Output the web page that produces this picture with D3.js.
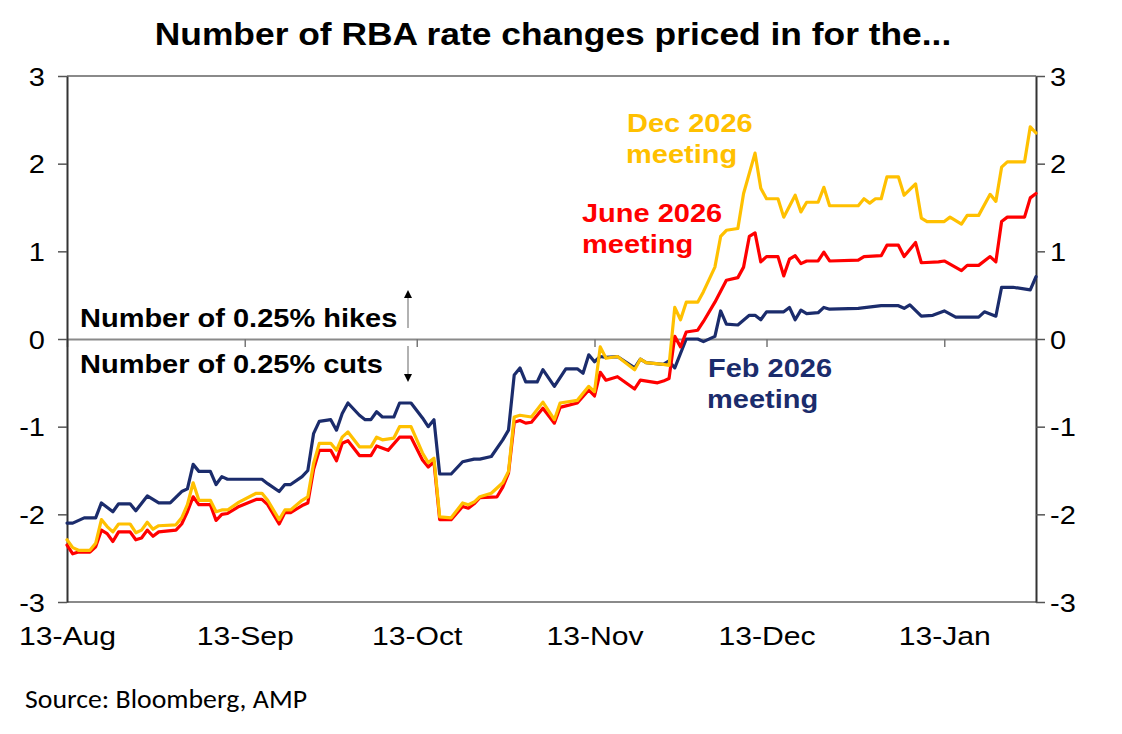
<!DOCTYPE html>
<html>
<head>
<meta charset="utf-8">
<script src="https://cdn.jsdelivr.net/npm/d3@7/dist/d3.min.js"></script>
<style>
  html, body { margin: 0; padding: 0; background: #fff; }
  svg { display: block; }
</style>
</head>
<body>
<svg id="chart" width="1122" height="734"></svg>
<script>
// ---------- DATA ----------
const title = "Number of RBA rate changes priced in for the...";
const sourceText = "Source: Bloomberg, AMP";
const yTicks = [-3, -2, -1, 0, 1, 2, 3];
const yTickLabels = ["-3", "-2", "-1", "0", "1", "2", "3"];
const xTickDates = ["2025-08-13", "2025-09-13", "2025-10-13", "2025-11-13", "2025-12-13", "2026-01-13"];
const xTickLabels = ["13-Aug", "13-Sep", "13-Oct", "13-Nov", "13-Dec", "13-Jan"];
const xDomain = ["2025-08-13", "2026-01-29"];

const feb2026 = [["2025-08-13",-2.10],["2025-08-14",-2.10],["2025-08-16",-2.04],["2025-08-18",-2.04],["2025-08-19",-1.87],["2025-08-21",-1.97],["2025-08-22",-1.88],["2025-08-24",-1.88],["2025-08-25",-1.96],["2025-08-27",-1.79],["2025-08-29",-1.87],["2025-08-31",-1.87],["2025-09-02",-1.74],["2025-09-03",-1.71],["2025-09-04",-1.43],["2025-09-05",-1.51],["2025-09-07",-1.51],["2025-09-08",-1.66],["2025-09-09",-1.57],["2025-09-10",-1.60],["2025-09-16",-1.60],["2025-09-17",-1.65],["2025-09-19",-1.74],["2025-09-20",-1.66],["2025-09-21",-1.66],["2025-09-23",-1.57],["2025-09-24",-1.50],["2025-09-25",-1.08],["2025-09-26",-0.94],["2025-09-28",-0.92],["2025-09-29",-1.04],["2025-09-30",-0.85],["2025-10-01",-0.73],["2025-10-03",-0.87],["2025-10-04",-0.92],["2025-10-05",-0.92],["2025-10-06",-0.83],["2025-10-07",-0.89],["2025-10-09",-0.89],["2025-10-10",-0.73],["2025-10-12",-0.73],["2025-10-14",-0.90],["2025-10-15",-1.00],["2025-10-16",-0.92],["2025-10-17",-1.54],["2025-10-19",-1.54],["2025-10-21",-1.40],["2025-10-23",-1.37],["2025-10-24",-1.37],["2025-10-26",-1.34],["2025-10-28",-1.15],["2025-10-29",-1.04],["2025-10-30",-0.41],["2025-10-31",-0.33],["2025-11-01",-0.49],["2025-11-03",-0.49],["2025-11-04",-0.35],["2025-11-06",-0.54],["2025-11-08",-0.34],["2025-11-10",-0.34],["2025-11-11",-0.39],["2025-11-12",-0.18],["2025-11-13",-0.26],["2025-11-14",-0.20],["2025-11-15",-0.21],["2025-11-17",-0.20],["2025-11-20",-0.33],["2025-11-21",-0.23],["2025-11-22",-0.27],["2025-11-25",-0.29],["2025-11-26",-0.25],["2025-11-27",-0.33],["2025-11-29",0.00],["2025-12-01",0.00],["2025-12-02",-0.03],["2025-12-04",0.03],["2025-12-05",0.32],["2025-12-06",0.17],["2025-12-08",0.16],["2025-12-10",0.27],["2025-12-11",0.27],["2025-12-12",0.22],["2025-12-13",0.31],["2025-12-16",0.31],["2025-12-17",0.36],["2025-12-18",0.22],["2025-12-19",0.33],["2025-12-20",0.29],["2025-12-22",0.30],["2025-12-23",0.36],["2025-12-24",0.34],["2025-12-29",0.35],["2026-01-02",0.38],["2026-01-05",0.38],["2026-01-06",0.35],["2026-01-07",0.39],["2026-01-09",0.26],["2026-01-11",0.27],["2026-01-13",0.32],["2026-01-15",0.25],["2026-01-19",0.25],["2026-01-20",0.31],["2026-01-22",0.26],["2026-01-23",0.59],["2026-01-25",0.59],["2026-01-28",0.56],["2026-01-29",0.71]];

const jun2026 = [["2025-08-13",-2.35],["2025-08-14",-2.45],["2025-08-15",-2.43],["2025-08-17",-2.43],["2025-08-18",-2.37],["2025-08-19",-2.18],["2025-08-20",-2.22],["2025-08-21",-2.31],["2025-08-22",-2.20],["2025-08-24",-2.20],["2025-08-25",-2.29],["2025-08-26",-2.27],["2025-08-27",-2.18],["2025-08-28",-2.25],["2025-08-29",-2.20],["2025-09-01",-2.18],["2025-09-02",-2.11],["2025-09-03",-1.97],["2025-09-04",-1.80],["2025-09-05",-1.89],["2025-09-07",-1.89],["2025-09-08",-2.07],["2025-09-09",-2.00],["2025-09-10",-1.99],["2025-09-12",-1.91],["2025-09-15",-1.83],["2025-09-16",-1.83],["2025-09-17",-1.89],["2025-09-19",-2.11],["2025-09-20",-1.98],["2025-09-21",-1.98],["2025-09-23",-1.90],["2025-09-24",-1.87],["2025-09-25",-1.49],["2025-09-26",-1.27],["2025-09-28",-1.27],["2025-09-29",-1.39],["2025-09-30",-1.19],["2025-10-01",-1.16],["2025-10-03",-1.33],["2025-10-05",-1.33],["2025-10-06",-1.22],["2025-10-08",-1.27],["2025-10-10",-1.12],["2025-10-12",-1.12],["2025-10-14",-1.38],["2025-10-15",-1.46],["2025-10-16",-1.40],["2025-10-17",-2.06],["2025-10-19",-2.06],["2025-10-21",-1.91],["2025-10-22",-1.93],["2025-10-23",-1.88],["2025-10-24",-1.81],["2025-10-27",-1.80],["2025-10-28",-1.69],["2025-10-29",-1.53],["2025-10-30",-0.95],["2025-10-31",-0.93],["2025-11-01",-0.96],["2025-11-02",-0.95],["2025-11-04",-0.79],["2025-11-06",-0.96],["2025-11-07",-0.78],["2025-11-10",-0.73],["2025-11-12",-0.58],["2025-11-13",-0.65],["2025-11-14",-0.38],["2025-11-15",-0.47],["2025-11-17",-0.43],["2025-11-20",-0.57],["2025-11-21",-0.47],["2025-11-24",-0.50],["2025-11-25",-0.48],["2025-11-26",-0.45],["2025-11-27",0.03],["2025-11-28",-0.09],["2025-11-29",0.08],["2025-12-01",0.10],["2025-12-02",0.20],["2025-12-04",0.42],["2025-12-06",0.67],["2025-12-08",0.70],["2025-12-09",0.82],["2025-12-10",1.17],["2025-12-11",1.21],["2025-12-12",0.88],["2025-12-13",0.94],["2025-12-15",0.94],["2025-12-16",0.72],["2025-12-17",0.91],["2025-12-18",0.95],["2025-12-19",0.86],["2025-12-20",0.89],["2025-12-22",0.89],["2025-12-23",0.99],["2025-12-24",0.89],["2025-12-29",0.90],["2025-12-30",0.94],["2026-01-02",0.95],["2026-01-03",1.07],["2026-01-05",1.07],["2026-01-06",0.94],["2026-01-08",1.10],["2026-01-09",0.87],["2026-01-12",0.88],["2026-01-13",0.89],["2026-01-16",0.78],["2026-01-17",0.84],["2026-01-19",0.84],["2026-01-21",0.94],["2026-01-22",0.88],["2026-01-23",1.34],["2026-01-24",1.39],["2026-01-27",1.39],["2026-01-28",1.61],["2026-01-29",1.66]];

const dec2026 = [["2025-08-13",-2.29],["2025-08-14",-2.38],["2025-08-15",-2.41],["2025-08-17",-2.41],["2025-08-18",-2.33],["2025-08-19",-2.06],["2025-08-20",-2.14],["2025-08-21",-2.20],["2025-08-22",-2.11],["2025-08-24",-2.11],["2025-08-25",-2.21],["2025-08-26",-2.18],["2025-08-27",-2.09],["2025-08-28",-2.17],["2025-08-29",-2.13],["2025-09-01",-2.12],["2025-09-02",-2.04],["2025-09-03",-1.89],["2025-09-04",-1.64],["2025-09-05",-1.84],["2025-09-07",-1.84],["2025-09-08",-1.97],["2025-09-09",-1.95],["2025-09-10",-1.95],["2025-09-12",-1.86],["2025-09-15",-1.76],["2025-09-16",-1.76],["2025-09-17",-1.84],["2025-09-19",-2.06],["2025-09-20",-1.95],["2025-09-21",-1.95],["2025-09-23",-1.84],["2025-09-24",-1.80],["2025-09-25",-1.42],["2025-09-26",-1.19],["2025-09-28",-1.19],["2025-09-29",-1.27],["2025-09-30",-1.12],["2025-10-01",-1.06],["2025-10-03",-1.23],["2025-10-05",-1.23],["2025-10-06",-1.12],["2025-10-07",-1.15],["2025-10-09",-1.13],["2025-10-10",-1.00],["2025-10-12",-1.00],["2025-10-14",-1.30],["2025-10-15",-1.41],["2025-10-16",-1.36],["2025-10-17",-2.03],["2025-10-19",-2.04],["2025-10-21",-1.87],["2025-10-22",-1.89],["2025-10-23",-1.86],["2025-10-24",-1.80],["2025-10-26",-1.76],["2025-10-28",-1.64],["2025-10-29",-1.51],["2025-10-30",-0.89],["2025-10-31",-0.87],["2025-11-02",-0.89],["2025-11-04",-0.72],["2025-11-06",-0.92],["2025-11-07",-0.73],["2025-11-10",-0.70],["2025-11-12",-0.54],["2025-11-13",-0.60],["2025-11-14",-0.09],["2025-11-15",-0.22],["2025-11-17",-0.20],["2025-11-20",-0.35],["2025-11-21",-0.23],["2025-11-22",-0.27],["2025-11-25",-0.29],["2025-11-26",-0.30],["2025-11-27",0.36],["2025-11-28",0.22],["2025-11-29",0.42],["2025-12-01",0.42],["2025-12-02",0.54],["2025-12-04",0.82],["2025-12-05",1.17],["2025-12-06",1.24],["2025-12-08",1.26],["2025-12-09",1.66],["2025-12-11",2.12],["2025-12-12",1.72],["2025-12-13",1.60],["2025-12-15",1.60],["2025-12-16",1.39],["2025-12-18",1.64],["2025-12-19",1.45],["2025-12-20",1.56],["2025-12-22",1.56],["2025-12-23",1.73],["2025-12-24",1.52],["2025-12-29",1.52],["2025-12-30",1.60],["2025-12-31",1.55],["2026-01-01",1.60],["2026-01-02",1.60],["2026-01-03",1.85],["2026-01-05",1.85],["2026-01-06",1.64],["2026-01-08",1.77],["2026-01-09",1.38],["2026-01-10",1.34],["2026-01-13",1.34],["2026-01-14",1.39],["2026-01-16",1.31],["2026-01-17",1.41],["2026-01-19",1.41],["2026-01-21",1.65],["2026-01-22",1.57],["2026-01-23",1.96],["2026-01-24",2.02],["2026-01-27",2.02],["2026-01-28",2.42],["2026-01-29",2.35]];

const seriesNames = ["Feb 2026 meeting", "June 2026 meeting", "Dec 2026 meeting"];
const seriesColors = ["#1B2C6C", "#FF0000", "#FFC000"];

// ---------- SETUP ----------
const parse = d3.timeParse("%Y-%m-%d");
const svg = d3.select("#chart");
const L = 67, R = 1036, T = 76, B = 602;
const SX = 1.16; // horizontal stretch of the original picture's lettering
const FONT = "'Liberation Sans', Arial, Helvetica, sans-serif";

const x = d3.scaleTime().domain(xDomain.map(parse)).range([L, R]);
const y = d3.scaleLinear().domain([-3, 3]).range([B, T]);

function label(g, px, py, str, size, weight, color, anchor) {
  return g.append("text")
    .attr("transform", `translate(${px},${py}) scale(${SX},1)`)
    .attr("text-anchor", anchor || "start")
    .style("font-family", FONT)
    .style("font-size", size + "px")
    .style("font-weight", weight)
    .style("fill", color)
    .text(str);
}

const yFmt = v => yTickLabels[yTicks.indexOf(v)];
const xFmt = d => xTickLabels[xTickDates.indexOf(d3.timeFormat("%Y-%m-%d")(d))];

// ---------- FRAME ----------
svg.append("line").attr("x1", L).attr("x2", R).attr("y1", y(3)).attr("y2", y(3))
  .attr("stroke", "#8a8a8a").attr("stroke-width", 2);
svg.append("line").attr("x1", L).attr("x2", R).attr("y1", y(-3)).attr("y2", y(-3))
  .attr("stroke", "#8a8a8a").attr("stroke-width", 2);

// zero line with month ticks
const zeroAxis = svg.append("g").attr("transform", `translate(0,${y(0)})`)
  .call(d3.axisBottom(x).tickValues(xTickDates.map(parse)).tickSize(8).tickSizeOuter(0).tickFormat(""));
zeroAxis.select(".domain").attr("stroke", "#8a8a8a").attr("stroke-width", 2);
zeroAxis.selectAll(".tick line").attr("stroke", "#777").attr("stroke-width", 1.5);

// left axis
const leftAxis = svg.append("g").attr("transform", `translate(${L},0)`)
  .call(d3.axisLeft(y).tickValues(yTicks).tickSize(9).tickSizeOuter(0).tickFormat(yFmt));
leftAxis.select(".domain").attr("stroke", "#333").attr("stroke-width", 2);
leftAxis.selectAll(".tick line").attr("stroke", "#555").attr("stroke-width", 1.5);
leftAxis.selectAll(".tick text")
  .attr("x", 0).attr("dy", "0.36em")
  .attr("transform", `translate(-22,0) scale(${SX},1)`)
  .attr("text-anchor", "end")
  .style("font-family", FONT).style("font-size", "25px").style("fill", "#000");

// right axis
const rightAxis = svg.append("g").attr("transform", `translate(${R},0)`)
  .call(d3.axisRight(y).tickValues(yTicks).tickSize(9).tickSizeOuter(0).tickFormat(yFmt));
rightAxis.select(".domain").attr("stroke", "#333").attr("stroke-width", 2);
rightAxis.selectAll(".tick line").attr("stroke", "#555").attr("stroke-width", 1.5);
rightAxis.selectAll(".tick text")
  .attr("x", 0).attr("dy", "0.36em")
  .attr("transform", `translate(14,0) scale(${SX},1)`)
  .attr("text-anchor", "start")
  .style("font-family", FONT).style("font-size", "25px").style("fill", "#000");

// bottom axis labels
const bottomAxis = svg.append("g").attr("transform", `translate(0,${B})`)
  .call(d3.axisBottom(x).tickValues(xTickDates.map(parse)).tickSize(0).tickFormat(xFmt));
bottomAxis.select(".domain").remove();
bottomAxis.selectAll(".tick text")
  .attr("y", 0).attr("dy", 0)
  .attr("transform", `translate(0,43) scale(${SX},1)`)
  .style("font-family", FONT).style("font-size", "26px").style("fill", "#000");

// ---------- LINES ----------
const line = d3.line()
  .x(d => x(parse(d[0])))
  .y(d => y(d[1]))
  .curve(d3.curveLinear);

[feb2026, jun2026, dec2026].forEach((s, i) => {
  svg.append("path")
    .datum(s)
    .attr("d", line)
    .attr("fill", "none")
    .attr("stroke", seriesColors[i])
    .attr("stroke-width", 3.2)
    .attr("stroke-linejoin", "round")
    .attr("stroke-linecap", "round");
});

// ---------- TEXT ----------
label(svg, 553, 45, title, 30.5, "bold", "#000", "middle");

const ann = svg.append("g");
label(ann, 627, 132, "Dec 2026", 25, "bold", seriesColors[2]);
label(ann, 626, 163, "meeting", 25, "bold", seriesColors[2]);
label(ann, 582, 222, "June 2026", 25, "bold", seriesColors[1]);
label(ann, 582, 253, "meeting", 25, "bold", seriesColors[1]);
label(ann, 708, 377, "Feb 2026", 25, "bold", seriesColors[0]);
label(ann, 707, 408, "meeting", 25, "bold", seriesColors[0]);

label(ann, 80, 327, "Number of 0.25% hikes", 25, "bold", "#000");
label(ann, 80, 373, "Number of 0.25% cuts", 25, "bold", "#000");

// arrows
const defs = svg.append("defs");
defs.append("marker").attr("id", "ah").attr("viewBox", "0 0 10 10")
  .attr("refX", 5).attr("refY", 5).attr("markerWidth", 8).attr("markerHeight", 8)
  .attr("markerUnits", "userSpaceOnUse")
  .attr("orient", "auto")
  .append("path").attr("d", "M0,0 L10,5 L0,10 Z").attr("fill", "#000");
svg.append("line").attr("x1", 408).attr("x2", 408).attr("y1", 328).attr("y2", 294)
  .attr("stroke", "#999").attr("stroke-width", 1.5).attr("marker-end", "url(#ah)");
svg.append("line").attr("x1", 408).attr("x2", 408).attr("y1", 346).attr("y2", 378)
  .attr("stroke", "#999").attr("stroke-width", 1.5).attr("marker-end", "url(#ah)");

// source
svg.append("text")
  .attr("x", 25).attr("y", 708)
  .attr("textLength", 282).attr("lengthAdjust", "spacingAndGlyphs")
  .style("font-family", "Carlito, Lato, 'Open Sans', sans-serif")
  .style("font-size", "27px")
  .style("fill", "#000")
  .text(sourceText);
</script>
</body>
</html>
